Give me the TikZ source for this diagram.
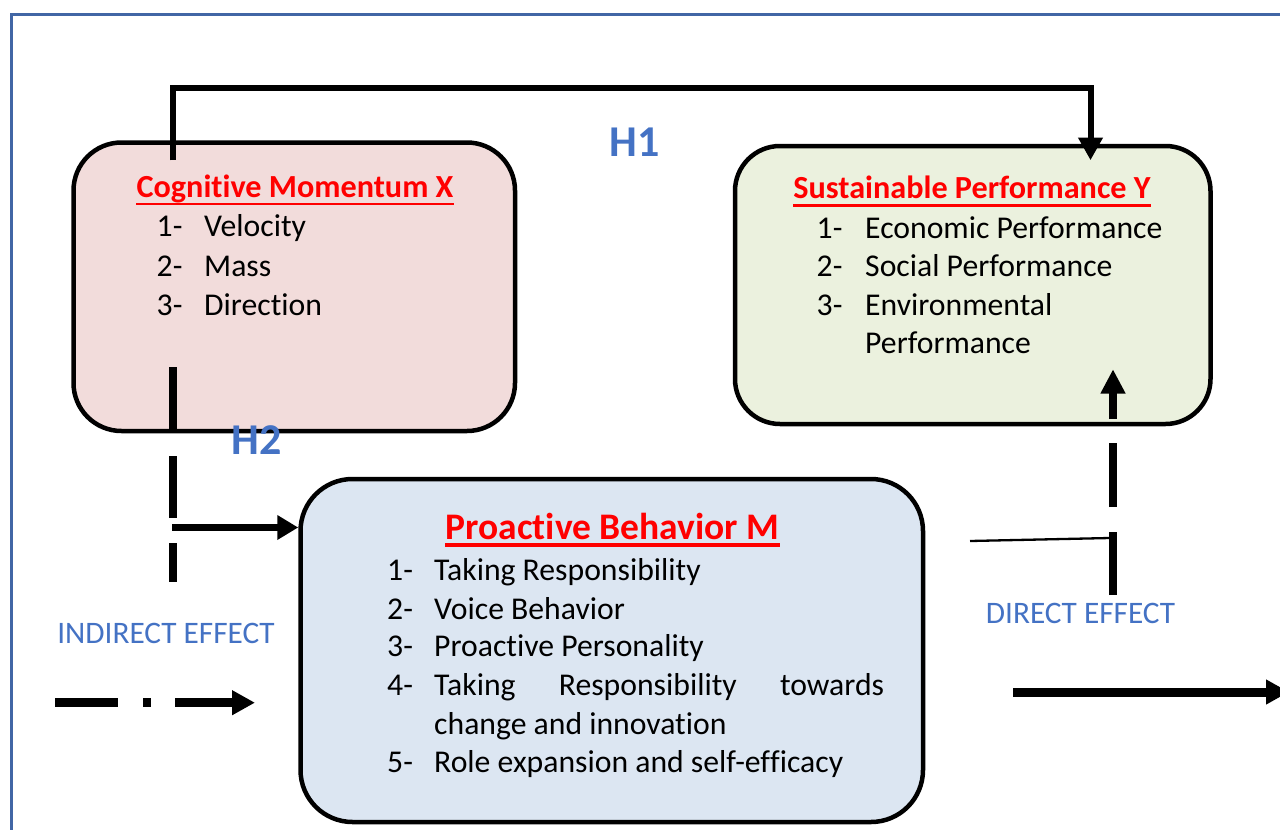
\documentclass[tikz,border=0pt]{standalone}
\usepackage{fontspec}
\setmainfont{Carlito}[Ligatures={NoCommon,NoContextual,NoRequired}, RawFeature={-liga;-clig;-calt;-dlig}]
\usetikzlibrary{arrows.meta}

% break letter pairs that Carlito would join
\newcommand{\nolig}{\kern0pt{}}

\definecolor{frameblue}{RGB}{65,102,165}
\definecolor{labelblue}{RGB}{68,114,196}
\definecolor{pinkfill}{RGB}{242,220,219}
\definecolor{greenfill}{RGB}{235,241,222}
\definecolor{bluefill}{RGB}{220,230,242}
\definecolor{titlered}{RGB}{255,0,0}

\tikzset{
  varbox/.style={draw=black, line width=4.5pt, rounded corners=48pt, inner sep=0pt},
  boxtitle/.style={anchor=base, inner sep=0pt, text=titlered,
    font=\fontsize{32.2}{38}\selectfont\bfseries},
  bigtitle/.style={boxtitle, font=\fontsize{37.5}{44}\selectfont\bfseries},
  ul/.style={draw=titlered, line width=2.5pt},
  num/.style={anchor=base west, inner sep=0pt, font=\fontsize{31.7}{37}\selectfont},
  item/.style={anchor=base west, inner sep=0pt, font=\fontsize{31.7}{37}\selectfont},
  hyp/.style={anchor=base, inner sep=0pt, text=labelblue,
    font=\fontsize{44}{50}\selectfont\bfseries},
  effect/.style={anchor=base, inner sep=0pt, text=labelblue,
    font=\fontsize{31.3}{37}\selectfont},
}

\begin{document}
\begin{tikzpicture}[x=1pt, y=-1pt, line cap=butt]
\useasboundingbox (0,0) rectangle (1280,830);

% page frame
\draw[frameblue, line width=2.5pt] (11.3,900) -- (11.3,14.7) -- (1350,14.7);

% construct boxes
\node[varbox, fill=pinkfill, minimum width=441.5pt, minimum height=288.5pt]
  (X) at (294.25,286.75) {};
\node[varbox, fill=greenfill, rounded corners=45pt, minimum width=475.5pt, minimum height=278pt]
  (Y) at (972.75,285) {};
\node[varbox, fill=bluefill, rounded corners=52pt, minimum width=622.5pt, minimum height=343pt]
  (M) at (611.75,650.5) {};

% Cognitive Momentum X
\node[boxtitle] (xt) at (295,197.7) {Cognit\nolig ive Momentum X};
\draw[ul] ([yshift=-6.3pt]xt.base west) -- ([yshift=-6.3pt]xt.base east);
\node[num] (x1n) at (156.5,236.7) {1-};
\node[item] (x1t) at (204,236.7) {Velocity};
\node[num] (x2n) at (156.5,276) {2-};
\node[item] (x2t) at (204,276) {Mass};
\node[num] (x3n) at (156.5,315) {3-};
\node[item] (x3t) at (204,315) {Direct\nolig ion};

% Sustainable Performance Y
\node[boxtitle] (yt) at (972,198.3) {Sustainable Performance Y};
\draw[ul] ([yshift=-7pt]yt.base west) -- ([yshift=-7pt]yt.base east);
\node[num] (y1n) at (816.5,238.3) {1-};
\node[item] (y1t) at (865,238.3) {Economic Performance};
\node[num] (y2n) at (816.5,276.7) {2-};
\node[item] (y2t) at (865,276.7) {Social Performance};
\node[num] (y3n) at (816.5,315) {3-};
\node[item] (y3t) at (865,315) {Environmental};
\node[item] (y3u) at (865,353.3) {Performance};

% Proactive Behavior M
\node[bigtitle] (mt) at (612.5,539.3) {Proact\nolig ive Behavior M};
\draw[ul, line width=3.3pt] ([yshift=-5.8pt]mt.base west) -- ([yshift=-5.8pt]mt.base east);
\node[num] (m1n) at (387,580.7) {1-};
\node[item] (m1t) at (434,580.7) {Taking Responsibility};
\node[num] (m2n) at (387,619.3) {2-};
\node[item] (m2t) at (434,619.3) {Voice Behavior};
\node[num] (m3n) at (387,656.7) {3-};
\node[item] (m3t) at (434,656.7) {Proact\nolig ive Personality};
\node[num] (m4n) at (387,695) {4-};
\node[item] (m4t) at (434,695) {\hbox to 450pt{Taking\hfill Responsibility\hfill towards}};
\node[item] (m4u) at (434,734) {change and innovat\nolig ion};
\node[num] (m5n) at (387,772.7) {5-};
\node[item] (m5t) at (434,772.7) {Role expansion and self-ef\nolig f\nolig icacy};

% H1: X to Y over the top
\coordinate (h1s) at ([yshift=-20pt]X.north -| 173,0);
\coordinate (h1e) at ([yshift=-16.5pt]Y.north -| 1090.5,0);
\draw[line width=6pt, line join=miter, -{Triangle[length=22.7pt, width=23.5pt]}]
  (h1s) -- (173,87.5) -- (1090.5,87.5) -- (h1e);
\node[hyp] (h1) at (635,156.7) {H1};

% H2: X down to M
\coordinate (h2s) at (173,367);
\coordinate (h2e) at (173,582);
\draw[line width=7.7pt, dash pattern=on 63pt off 26pt on 62pt off 25pt on 39pt]
  (h2s) -- (h2e);
\coordinate (h2a) at (172,527.5);
\draw[line width=7.7pt, -{Triangle[length=21pt, width=23.5pt]}] (h2a) -- (h2a -| M.west);
\node[hyp] (h2) at (256.7,454) {H2};

% M up to Y
\coordinate (ms) at (970,541);
\coordinate (mk) at (1110,538);
\draw[line width=2.3pt] (ms) -- (mk);
\coordinate (my) at (1113,595);
\coordinate (mye) at ([yshift=57pt]Y.south -| my);
\draw[line width=8pt, dash pattern=on 63pt off 25pt on 64pt off 24pt on 200pt,
  -{Triangle[length=24.4pt, width=23.5pt]}] (my) -- (mye);

% legend
\node[effect] (ind) at (166,643.3) {INDIRECT EFFECT};
\coordinate (li1) at (55,702.7);
\coordinate (li2) at (255,702.7);
\draw[line width=9pt, dash pattern=on 63pt off 25pt on 8pt off 24pt on 200pt,
  -{Triangle[length=23pt, width=23.5pt]}] (li1) -- (li2);
\node[effect] (dir) at (1080.5,623.3) {DIRECT EFFECT};
\coordinate (ld1) at (1013,692);
\coordinate (ld2) at (1289,692);
\draw[line width=9pt, -{Triangle[length=23pt, width=23.5pt]}] (ld1) -- (ld2);
\end{tikzpicture}
\end{document}
